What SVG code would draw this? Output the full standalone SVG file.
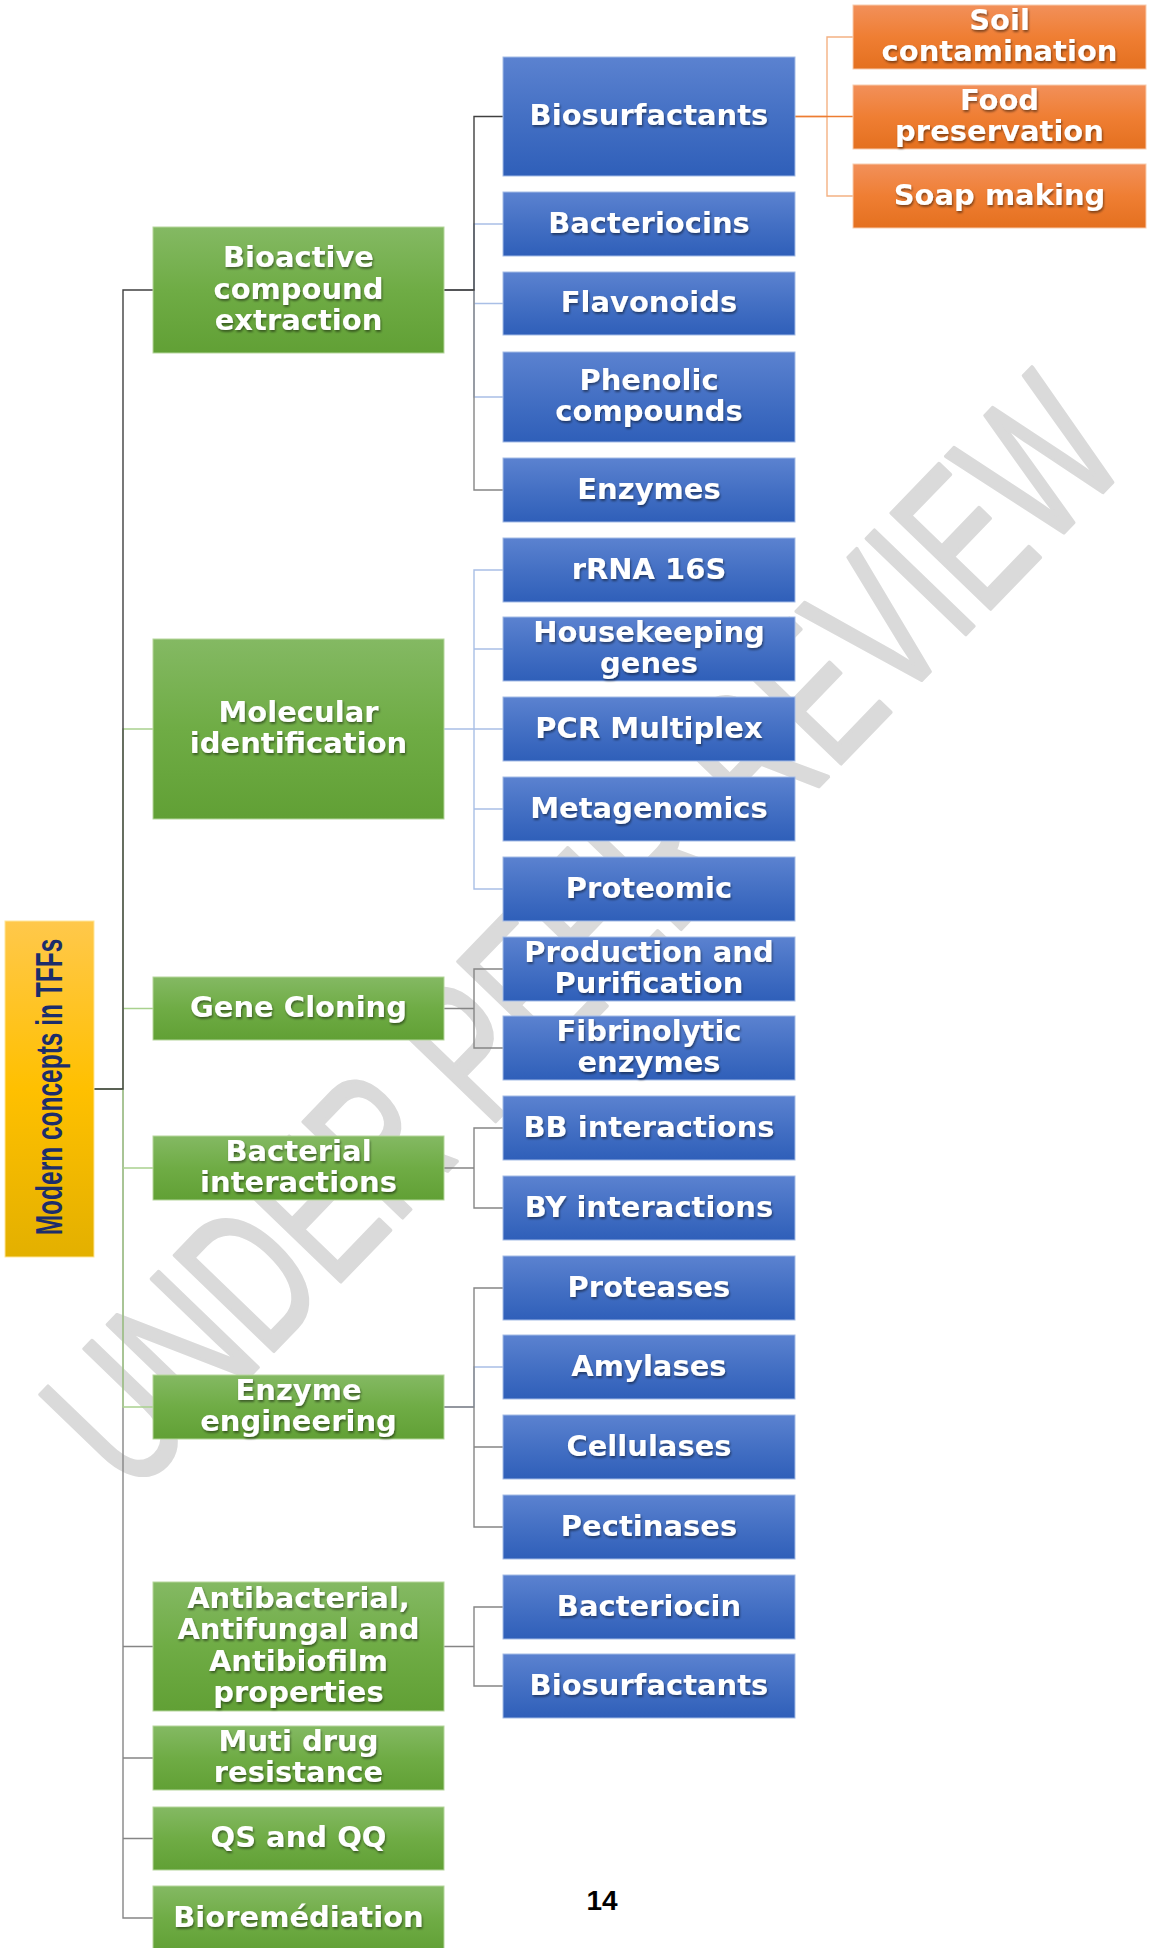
<svg xmlns="http://www.w3.org/2000/svg" width="1149" height="1948" viewBox="0 0 1149 1948">
<defs>
<linearGradient id="gBlue" x1="0" y1="0" x2="0" y2="1"><stop offset="0" stop-color="#5b82d0"/><stop offset="0.5" stop-color="#4470c4"/><stop offset="1" stop-color="#2f5fb9"/></linearGradient>
<linearGradient id="gGreen" x1="0" y1="0" x2="0" y2="1"><stop offset="0" stop-color="#84b963"/><stop offset="0.5" stop-color="#6fac45"/><stop offset="1" stop-color="#61a035"/></linearGradient>
<linearGradient id="gOrange" x1="0" y1="0" x2="0" y2="1"><stop offset="0" stop-color="#f2905a"/><stop offset="0.5" stop-color="#ef7e33"/><stop offset="1" stop-color="#e4701f"/></linearGradient>
<linearGradient id="gYellow" x1="0" y1="0" x2="0" y2="1"><stop offset="0" stop-color="#ffc84b"/><stop offset="0.5" stop-color="#ffc000"/><stop offset="1" stop-color="#e3b000"/></linearGradient>
<filter id="shadow" x="-10%" y="-30%" width="120%" height="160%"><feDropShadow dx="1" dy="2" stdDeviation="1.3" flood-color="#000" flood-opacity="0.45"/></filter>
</defs>
<style>
.blue{fill:url(#gBlue);stroke:#a3bbe6;stroke-width:1}
.green{fill:url(#gGreen);stroke:#b5d69c;stroke-width:1}
.orange{fill:url(#gOrange);stroke:#f8cbad;stroke-width:1}
.yellow{fill:url(#gYellow);stroke:#ffe699;stroke-width:1}
.lbl{font-family:"DejaVu Sans",Verdana,sans-serif;font-weight:bold;font-size:29px;fill:#ffffff;text-anchor:middle;filter:url(#shadow)}
.root{font-family:"Liberation Sans",Arial,sans-serif;font-weight:bold;font-size:24.5px;fill:#1c2d6b;text-anchor:middle}
.c{fill:none;stroke-width:1.4}
.dk{stroke:#404040}
.gy{stroke:#858585}
.gr{stroke:#a9d18e}
.bl{stroke:#a9bfe6}
.ol{stroke:#f4b183}
.os{stroke:#ed7d31}
.wm{font-family:"Liberation Sans",Arial,sans-serif;font-size:200px;fill:#dadada;stroke:#dadada;stroke-width:4;stroke-linejoin:round;text-anchor:middle}
.pg{font-family:"Liberation Sans",Arial,sans-serif;font-weight:bold;font-size:28px;fill:#000000;text-anchor:middle}
</style>
<rect x="0" y="0" width="1149" height="1948" fill="#ffffff"/>
<text class="wm" transform="translate(580,930) rotate(-46)" x="0" y="72" textLength="1440" lengthAdjust="spacingAndGlyphs">UNDER PEER REVIEW</text>
<g id="connectors">
<path class="c gy" d="M94,1089 H123 V1646.5 H153 M94,1089 H123 V1758 H153 M94,1089 H123 V1838.5 H153 M94,1089 H123 V1918 H153"/>
<path class="c gr" d="M94,1089 H123 V729 H153 M94,1089 H123 V1008.5 H153 M94,1089 H123 V1168 H153 M94,1089 H123 V1407 H153"/>
<path class="c dk" d="M94,1089 H123 V290 H153"/>
<path class="c bl" d="M444,290 H474 V224 H503 M444,290 H474 V303.5 H503 M444,290 H474 V397 H503"/>
<path class="c gy" d="M444,290 H474 V490 H503"/>
<path class="c dk" d="M444,290 H474 V116.5 H503"/>
<path class="c bl" d="M444,729 H474 V570 H503 M444,729 H474 V649 H503 M444,729 H503 M444,729 H474 V809 H503 M444,729 H474 V889 H503"/>
<path class="c gy" d="M444,1008.5 H474 V969 H503 M444,1008.5 H474 V1048 H503"/>
<path class="c gy" d="M444,1168 H474 V1128 H503 M444,1168 H474 V1208 H503"/>
<path class="c bl" d="M444,1407 H474 V1367 H503"/>
<path class="c gy" d="M444,1407 H474 V1288 H503 M444,1407 H474 V1447 H503 M444,1407 H474 V1527 H503"/>
<path class="c gy" d="M444,1646.5 H474 V1607 H503 M444,1646.5 H474 V1686 H503"/>
<path class="c ol" d="M795,116.5 H827 V37 H853 M795,116.5 H827 V196 H853"/>
<path class="c os" d="M795,116.5 H853"/>
</g>
<g id="root"><rect class="yellow" x="5" y="921" width="89" height="336"/><text class="root" transform="translate(62,1087) rotate(-90) scale(1,1.5)" x="0" y="0">Modern concepts in TFFs</text></g>
<g id="n-bioactive"><rect class="green" x="153" y="227" width="291" height="126"/><text class="lbl" x="298.5" y="267">Bioactive</text><text class="lbl" x="298.5" y="298.5">compound</text><text class="lbl" x="298.5" y="330">extraction</text></g>
<g id="n-molecular"><rect class="green" x="153" y="639" width="291" height="180"/><text class="lbl" x="298.5" y="721.75">Molecular</text><text class="lbl" x="298.5" y="753.25">identification</text></g>
<g id="n-genecloning"><rect class="green" x="153" y="977" width="291" height="63"/><text class="lbl" x="298.5" y="1017">Gene Cloning</text></g>
<g id="n-bacterial"><rect class="green" x="153" y="1136" width="291" height="64"/><text class="lbl" x="298.5" y="1160.75">Bacterial</text><text class="lbl" x="298.5" y="1192.25">interactions</text></g>
<g id="n-enzymeeng"><rect class="green" x="153" y="1375" width="291" height="64"/><text class="lbl" x="298.5" y="1399.75">Enzyme</text><text class="lbl" x="298.5" y="1431.25">engineering</text></g>
<g id="n-antibacterial"><rect class="green" x="153" y="1582" width="291" height="129"/><text class="lbl" x="298.5" y="1607.75">Antibacterial,</text><text class="lbl" x="298.5" y="1639.25">Antifungal and</text><text class="lbl" x="298.5" y="1670.75">Antibiofilm</text><text class="lbl" x="298.5" y="1702.25">properties</text></g>
<g id="n-mdr"><rect class="green" x="153" y="1726" width="291" height="64"/><text class="lbl" x="298.5" y="1750.75">Muti drug</text><text class="lbl" x="298.5" y="1782.25">resistance</text></g>
<g id="n-qs"><rect class="green" x="153" y="1807" width="291" height="63"/><text class="lbl" x="298.5" y="1847">QS and QQ</text></g>
<g id="n-bioremediation"><rect class="green" x="153" y="1886" width="291" height="66"/><text class="lbl" x="298.5" y="1926.5">Bioremédiation</text></g>
<g id="n-biosurfactants1"><rect class="blue" x="503" y="57" width="292" height="119"/><text class="lbl" x="649" y="125">Biosurfactants</text></g>
<g id="n-bacteriocins"><rect class="blue" x="503" y="192" width="292" height="64"/><text class="lbl" x="649" y="232.5">Bacteriocins</text></g>
<g id="n-flavonoids"><rect class="blue" x="503" y="272" width="292" height="63"/><text class="lbl" x="649" y="312">Flavonoids</text></g>
<g id="n-phenolic"><rect class="blue" x="503" y="352" width="292" height="90"/><text class="lbl" x="649" y="389.75">Phenolic</text><text class="lbl" x="649" y="421.25">compounds</text></g>
<g id="n-enzymes"><rect class="blue" x="503" y="458" width="292" height="64"/><text class="lbl" x="649" y="498.5">Enzymes</text></g>
<g id="n-rrna"><rect class="blue" x="503" y="538" width="292" height="64"/><text class="lbl" x="649" y="578.5">rRNA 16S</text></g>
<g id="n-housekeeping"><rect class="blue" x="503" y="617" width="292" height="64"/><text class="lbl" x="649" y="641.75">Housekeeping</text><text class="lbl" x="649" y="673.25">genes</text></g>
<g id="n-pcr"><rect class="blue" x="503" y="697" width="292" height="64"/><text class="lbl" x="649" y="737.5">PCR Multiplex</text></g>
<g id="n-metagenomics"><rect class="blue" x="503" y="777" width="292" height="64"/><text class="lbl" x="649" y="817.5">Metagenomics</text></g>
<g id="n-proteomic"><rect class="blue" x="503" y="857" width="292" height="64"/><text class="lbl" x="649" y="897.5">Proteomic</text></g>
<g id="n-production"><rect class="blue" x="503" y="937" width="292" height="64"/><text class="lbl" x="649" y="961.75">Production and</text><text class="lbl" x="649" y="993.25">Purification</text></g>
<g id="n-fibrinolytic"><rect class="blue" x="503" y="1016" width="292" height="64"/><text class="lbl" x="649" y="1040.75">Fibrinolytic</text><text class="lbl" x="649" y="1072.25">enzymes</text></g>
<g id="n-bb"><rect class="blue" x="503" y="1096" width="292" height="64"/><text class="lbl" x="649" y="1136.5">BB interactions</text></g>
<g id="n-by"><rect class="blue" x="503" y="1176" width="292" height="64"/><text class="lbl" x="649" y="1216.5">BY interactions</text></g>
<g id="n-proteases"><rect class="blue" x="503" y="1256" width="292" height="64"/><text class="lbl" x="649" y="1296.5">Proteases</text></g>
<g id="n-amylases"><rect class="blue" x="503" y="1335" width="292" height="64"/><text class="lbl" x="649" y="1375.5">Amylases</text></g>
<g id="n-cellulases"><rect class="blue" x="503" y="1415" width="292" height="64"/><text class="lbl" x="649" y="1455.5">Cellulases</text></g>
<g id="n-pectinases"><rect class="blue" x="503" y="1495" width="292" height="64"/><text class="lbl" x="649" y="1535.5">Pectinases</text></g>
<g id="n-bacteriocin"><rect class="blue" x="503" y="1575" width="292" height="64"/><text class="lbl" x="649" y="1615.5">Bacteriocin</text></g>
<g id="n-biosurfactants2"><rect class="blue" x="503" y="1654" width="292" height="64"/><text class="lbl" x="649" y="1694.5">Biosurfactants</text></g>
<g id="n-soil"><rect class="orange" x="853" y="5" width="293" height="64"/><text class="lbl" x="999.5" y="29.75">Soil</text><text class="lbl" x="999.5" y="61.25">contamination</text></g>
<g id="n-food"><rect class="orange" x="853" y="85" width="293" height="64"/><text class="lbl" x="999.5" y="109.75">Food</text><text class="lbl" x="999.5" y="141.25">preservation</text></g>
<g id="n-soap"><rect class="orange" x="853" y="164" width="293" height="64"/><text class="lbl" x="999.5" y="204.5">Soap making</text></g>
<text class="pg" x="602" y="1910">14</text>
</svg>
